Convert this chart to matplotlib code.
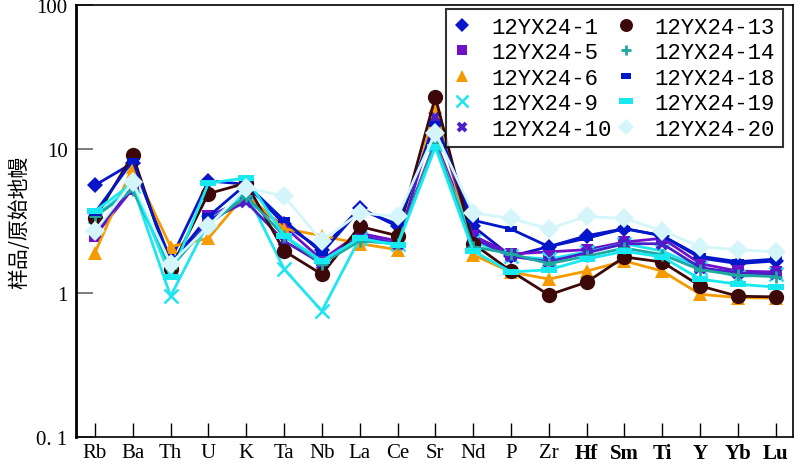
import numpy as np
import matplotlib
matplotlib.use("Agg")
import matplotlib.pyplot as plt
from matplotlib.path import Path
from matplotlib.lines import Line2D

# 元素 (原始地幔标准化蛛网图)
elements = ["Rb", "Ba", "Th", "U", "K", "Ta", "Nb", "La", "Ce", "Sr",
            "Nd", "P", "Zr", "Hf", "Sm", "Ti", "Y", "Yb", "Lu"]
bold_labels = ["Hf", "Sm", "Ti", "Y", "Yb", "Lu"]

s1 = [5.6, 8.0, 1.7, 6.0, 5.7, 3.0, 2.0, 3.9, 2.9, 15, 2.9, 1.8, 2.1, 2.5, 2.8, 2.5, 1.75, 1.6, 1.67]
s5 = [2.5, 5.3, 1.5, 3.4, 4.5, 2.9, 1.7, 2.6, 2.3, 11.3, 2.5, 1.87, 1.93, 2.0, 2.26, 2.4, 1.6, 1.42, 1.4]
s6 = [1.9, 7.5, 2.1, 2.4, 4.9, 2.8, 2.5, 2.2, 2.0, 19.6, 1.84, 1.40, 1.25, 1.42, 1.67, 1.42, 0.98, 0.93, 0.92]
s9 = [3.4, 5.5, 0.95, 3.1, 5.0, 1.47, 0.75, 2.4, 2.2, 10.8, 2.3, 1.8, 1.72, 1.93, 2.2, 1.96, 1.5, 1.3, 1.35]
s10 = [2.6, 5.5, 1.6, 3.2, 4.3, 2.3, 1.6, 2.5, 2.2, 16.7, 2.4, 1.8, 1.65, 1.9, 2.2, 2.2, 1.5, 1.38, 1.35]
s13 = [3.3, 9.1, 1.47, 4.9, 5.8, 1.96, 1.35, 2.9, 2.5, 23, 2.2, 1.42, 0.97, 1.19, 1.78, 1.64, 1.12, 0.95, 0.94]
s14 = [3.4, 5.2, 1.5, 3.0, 4.7, 2.5, 1.6, 2.3, 2.2, 11, 2.1, 1.87, 1.6, 1.8, 2.05, 1.85, 1.45, 1.33, 1.3]
s18 = [3.6, 8.3, 1.6, 3.4, 5.7, 3.2, 1.9, 3.8, 3.0, 15, 3.2, 2.78, 2.1, 2.4, 2.8, 2.5, 1.8, 1.65, 1.72]
s19 = [3.7, 5.8, 1.3, 5.8, 6.3, 2.5, 1.67, 2.4, 2.15, 10.3, 1.96, 1.40, 1.45, 1.72, 1.95, 1.78, 1.25, 1.15, 1.1]
s20 = [2.7, 5.9, 1.6, 2.9, 5.4, 4.7, 2.3, 3.6, 3.4, 13, 3.6, 3.3, 2.8, 3.4, 3.3, 2.7, 2.1, 2.0, 1.93]

names = ["12YX24-1", "12YX24-5", "12YX24-6", "12YX24-9", "12YX24-10",
         "12YX24-13", "12YX24-14", "12YX24-18", "12YX24-19", "12YX24-20"]
values = [s1, s5, s6, s9, s10, s13, s14, s18, s19, s20]

# 矩形标记
rect_small = Path([(-1, -0.6), (1, -0.6), (1, 0.6), (-1, 0.6), (-1, -0.6)],
                  [Path.MOVETO, Path.LINETO, Path.LINETO, Path.LINETO, Path.CLOSEPOLY])
rect_wide = Path([(-1, -0.4), (1, -0.4), (1, 0.4), (-1, 0.4), (-1, -0.4)],
                 [Path.MOVETO, Path.LINETO, Path.LINETO, Path.LINETO, Path.CLOSEPOLY])

styles = [
    dict(color="#0a14c8", marker="D", ms=8, mew=0),
    dict(color="#7010c8", marker="s", ms=9, mew=0),
    dict(color="#f59a00", marker="^", ms=10, mew=0),
    dict(color="#20e4f0", marker="x", ms=10, mew=1.8),
    dict(color="#4a1ec8", marker="x", ms=7, mew=2.8),
    dict(color="#3c0808", marker="o", ms=11, mew=0),
    dict(color="#20a8a0", marker="+", ms=9, mew=2),
    dict(color="#0018c8", marker=rect_small, ms=8, mew=0),
    dict(color="#18e8f0", marker=rect_wide, ms=12, mew=0),
    dict(color="#d4f6fa", marker="D", ms=10, mew=0),
]

x = np.arange(len(elements))

fig = plt.figure(figsize=(8, 4.64), dpi=100)
ax = fig.add_axes([0.095, 0.056, 0.896, 0.931])

for vals, st in zip(values, styles):
    ax.plot(x, vals, color=st["color"], lw=2, marker=st["marker"],
            ms=st["ms"], mew=st["mew"], mec=st["color"], mfc=st["color"])

ax.set_yscale("log")
ax.set_ylim(0.1, 100)
ax.set_xlim(-0.5, 18.45)
ax.set_yticks([0.1, 1, 10, 100])
ax.set_yticklabels(["0. 1", "1", "10", "100"], fontsize=15, family="Liberation Serif")
ax.yaxis.set_minor_locator(matplotlib.ticker.NullLocator())
ax.set_xticks(x)
ax.set_xticklabels(elements, fontsize=15, family="Liberation Serif")
for lab in ax.get_xticklabels():
    if lab.get_text() in bold_labels:
        lab.set_fontweight("bold")
ax.tick_params(axis="x", direction="in", length=10, width=1, pad=4)
ax.tick_params(axis="y", direction="in", length=12, width=1.2, color="#666666", pad=6)
for sp in ax.spines.values():
    sp.set_linewidth(1.2)
ax.spines["left"].set_linewidth(2)

ax.set_ylabel("样品/原始地幔", fontsize=15, family=["Noto Sans CJK SC", "DejaVu Sans"], labelpad=4)

handles = [Line2D([], [], ls="none", marker=st["marker"], ms=st["ms"] * 0.85,
                  mew=st["mew"], color=st["color"]) for st in styles]
leg = ax.legend(handles, names, ncol=2, loc="upper right",
                bbox_to_anchor=(783 / 800, 1 - 10 / 464), bbox_transform=fig.transFigure,
                prop={"family": "Liberation Mono", "size": 16}, frameon=True, fancybox=False,
                borderpad=0.35, labelspacing=0.2, handletextpad=0.9, columnspacing=0.25,
                handlelength=0.8, borderaxespad=0)
leg.get_frame().set_edgecolor("black")
leg.get_frame().set_linewidth(1.5)

fig.savefig("out.png", dpi=100)
